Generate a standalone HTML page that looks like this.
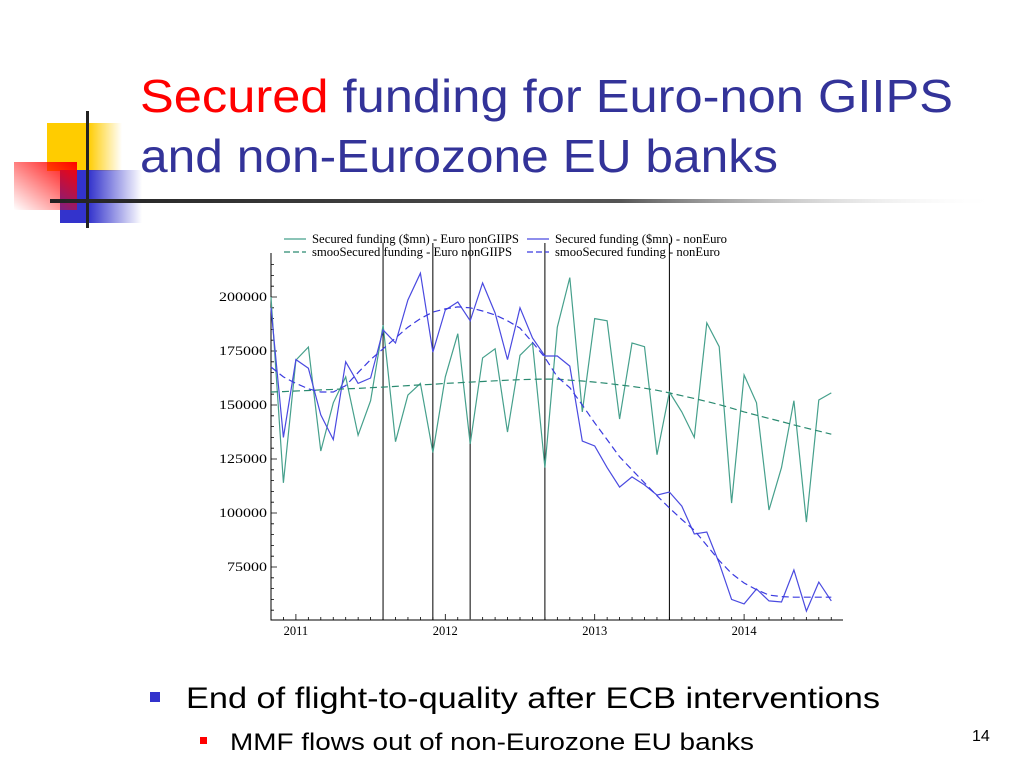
<!DOCTYPE html>
<html><head><meta charset="utf-8"><style>
body{margin:0;width:1024px;height:768px;overflow:hidden;background:#fff;font-family:"Liberation Sans",sans-serif}
svg{position:absolute;left:0;top:0}
</style></head><body>
<svg width="1024" height="768" viewBox="0 0 1024 768">
<defs>
<linearGradient id="gy" x1="0" x2="1"><stop offset="0.55" stop-color="#ffcc00"/><stop offset="1" stop-color="#ffcc00" stop-opacity="0"/></linearGradient>
<linearGradient id="gb" x1="0" x2="1"><stop offset="0.35" stop-color="#3333cc"/><stop offset="1" stop-color="#3333cc" stop-opacity="0"/></linearGradient>
<linearGradient id="gr" x1="1" y1="0" x2="0" y2="1"><stop offset="0" stop-color="#ff0000"/><stop offset="1" stop-color="#ff0000" stop-opacity="0"/></linearGradient>
<linearGradient id="gl" x1="0" x2="1"><stop offset="0" stop-color="#222"/><stop offset="0.6" stop-color="#555"/><stop offset="1" stop-color="#fff" stop-opacity="0"/></linearGradient>
</defs>
<g>
<rect x="47" y="123" width="75" height="48" fill="url(#gy)"/>
<rect x="60" y="170" width="82" height="53" fill="url(#gb)"/>
<rect x="14" y="162" width="63" height="48" fill="url(#gr)"/>
<rect x="86" y="111" width="3" height="117" fill="#222"/>
<rect x="50" y="199" width="950" height="4" fill="url(#gl)"/>
</g>
<text x="140" y="112" font-size="46" fill="#333399" textLength="813" lengthAdjust="spacingAndGlyphs"><tspan fill="#ff0000">Secured</tspan> funding for Euro-non GIIPS</text>
<text x="140" y="172" font-size="46" fill="#333399" textLength="638" lengthAdjust="spacingAndGlyphs">and non-Eurozone EU banks</text>
<rect x="150" y="692" width="10" height="10" fill="#3333cc"/>
<text x="186" y="708" font-size="30" fill="#000" textLength="694" lengthAdjust="spacingAndGlyphs">End of flight-to-quality after ECB interventions</text>
<rect x="200" y="737" width="7" height="7" fill="#ff0000"/>
<text x="230" y="750" font-size="24" fill="#000" textLength="524" lengthAdjust="spacingAndGlyphs">MMF flows out of non-Eurozone EU banks</text>
<text x="972" y="741" font-size="16" fill="#000">14</text>
<g id="chart" font-family="Liberation Serif, serif" font-size="12.5"></g>
</svg>
<script>
const greenVals=[200,114,170.8,176.8,128.7,151,163,136,152,187,133,154.6,160,128,163,183,132,171.8,176,137.5,173,178.7,121,186,209,146.8,190,189,143.5,178.7,177,127,156,146.8,135,188,177,104.6,163.9,151,101.4,121,152,95.8,152.3,155.6];
const blueVals=[195,135,171,167,145.4,134,170,160,162.5,184.7,178.7,198.6,211,174.5,194,197.7,189,206.5,192.6,171,195,181,172.7,172.7,168,133.3,131,121,112,116.7,113,108.3,109.7,103.2,90.3,91.2,76.8,60,57.9,64.8,59.3,58.8,73.6,54.6,68,59.3];
const greenSmooth=[156,156.2,156.5,156.7,157,157.2,157.5,157.7,158,158.3,158.6,159,159.3,159.6,160,160.3,160.6,160.9,161.2,161.5,161.7,161.9,162,162,161.5,161.1,160.6,160,159.3,158.6,157.8,156.8,155.6,154.3,153,151.6,150.2,148.5,146.8,145.3,143.8,142.3,140.8,139.3,137.9,136.5];
const blueSmooth=[167.6,163,160,157.5,156,156,159,165,171,176,181,186,190,193,194.5,195.4,195,193.5,191.7,189,185.6,179,172,163,158,150,141.7,134,126,120,114,108,102.3,97,92,85,78,72,67.6,64.5,62,61.3,61,61,61,61];
const yTicks=[75000,100000,125000,150000,175000,200000];
const xYears=[2011,2012,2013,2014];
const eventMonths=[9,13,16,22,32]; // month index from Nov 2010
const legendLabels=["Secured funding ($mn) - Euro nonGIIPS","Secured funding ($mn) - nonEuro","smooSecured funding - Euro nonGIIPS","smooSecured funding - nonEuro"];
const NS="http://www.w3.org/2000/svg";
const g=document.getElementById('chart');
const L=271,R=843,T=253,B=620;
const X=i=>271+i*12.45;
const Y=v=>297+(200000-v)/25000*54;
function mk(t,a){const e=document.createElementNS(NS,t);for(const k in a)e.setAttribute(k,a[k]);g.appendChild(e);return e;}
let ax=mk('path',{d:`M${L},${T}V${B}H${R}`,stroke:'#000','stroke-width':1,fill:'none'});


let td='';
for(let v=55000;v<=215000;v+=5000){const y=Y(v);if(y<T||y>B)continue;td+=`M${L},${y}h${v%25000===0?6:3}`;}
for(let i=0;i<=46;i++){const x=X(i);if(x>R)break;td+=`M${x},${B}v${(i-2)%12===0?-6:-3}`;}
let tk=mk('path',{d:td,stroke:'#000','stroke-width':0.8,fill:'none'});


yTicks.forEach(v=>{const t=mk('text',{x:267,y:Y(v)+4,'text-anchor':'end',textLength:String(v).length*8,lengthAdjust:'spacingAndGlyphs'});t.textContent=v;

});
xYears.forEach((yr,k)=>{const t=mk('text',{x:X(2+12*k),y:635,'text-anchor':'middle'});t.textContent=yr;

});
eventMonths.forEach(m=>{const l=mk('line',{x1:X(m),x2:X(m),y1:T-10,y2:B,stroke:m===16?'#555':'#000','stroke-width':m===16?1.5:1});

});
function series(arr,scale,col,dash,name){const d=arr.map((v,i)=>(i?'L':'M')+X(i).toFixed(1)+','+Y(v*scale).toFixed(1)).join('');
const p=mk('path',{d:d,stroke:col,'stroke-width':1.2,fill:'none','stroke-dasharray':dash||'none'});

}
series(greenVals,1000,'#46a08c','', 'series-euro-nongiips');
series(blueVals,1000,'#4a4ae0','', 'series-noneuro');
series(greenSmooth,1000,'#2a8a70','7,4','smooth-euro-nongiips');
series(blueSmooth,1000,'#3b3be0','7,4','smooth-noneuro');
const lg=[[284,243,'#46a08c','',207],[527,243,'#4a4ae0','',172],[284,256,'#2a8a70','6,3',200],[527,256,'#3b3be0','6,3',165]];
lg.forEach((a,k)=>{const l=mk('line',{x1:a[0],x2:a[0]+22,y1:a[1]-4,y2:a[1]-4,stroke:a[2],'stroke-width':1.2,'stroke-dasharray':a[3]||'none'});


const t=mk('text',{x:a[0]+28,y:a[1],textLength:a[4],lengthAdjust:'spacingAndGlyphs'});t.textContent=legendLabels[k];

});
</script>
</body></html>
